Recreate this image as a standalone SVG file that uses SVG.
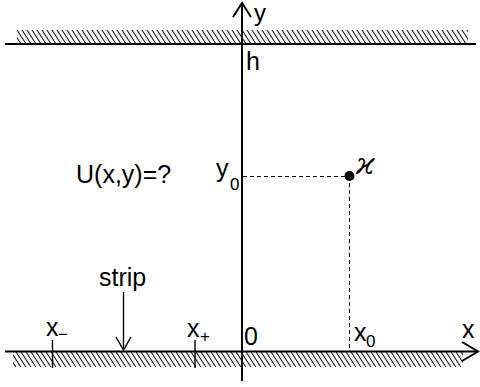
<svg xmlns="http://www.w3.org/2000/svg" width="480" height="387" viewBox="0 0 480 387">
<style>
text{font-family:"Liberation Sans",Arial,sans-serif;font-size:25px;fill:#000}
.sub{font-size:17px}
.ax{stroke:#000;stroke-width:2;fill:none}
.thin{stroke:#000;stroke-width:1.4;fill:none}
.dash{stroke:#000;stroke-width:1;stroke-dasharray:4 3;fill:none}
</style>
<defs>
<pattern id="hatch" patternUnits="userSpaceOnUse" width="5" height="40" patternTransform="skewX(33)">
<line x1="2.5" y1="-1" x2="2.5" y2="41" stroke="#000" stroke-width="1.2"/>
</pattern>
</defs>
<g id="walls">
<rect x="17" y="30" width="451" height="14" fill="url(#hatch)"/>
<rect x="13" y="352" width="450" height="15" fill="url(#hatch)"/>
<line class="ax" x1="5" y1="44" x2="476" y2="44"/>
</g>
<g id="connectors">
<line class="ax" x1="5" y1="351.5" x2="478" y2="351.5"/>
<polyline class="ax" points="462,342 478,351.5 462,361"/>
<line class="ax" x1="242" y1="3" x2="242" y2="381"/>
<polyline class="ax" points="233,17 242,3 251,17"/>
<line class="thin" x1="52.5" y1="340" x2="52.5" y2="368"/>
<line class="thin" x1="195" y1="340" x2="195" y2="368"/>
<line class="thin" x1="123.5" y1="292" x2="123.5" y2="350"/>
<polyline class="thin" points="116,337 123.5,350 131,337"/>
<line class="dash" x1="243" y1="176.5" x2="345" y2="176.5"/>
<line class="dash" x1="349.5" y1="176" x2="349.5" y2="351"/>
</g>
<g id="point">
<circle cx="349.5" cy="176" r="5" fill="#000"/>
<text x="356" y="174" style="font-family:'DejaVu Serif',serif;font-style:italic;font-size:30px">ϰ</text>
</g>
<g id="labels">
<text x="254" y="21" style="font-size:24px">y</text>
<text x="246" y="70">h</text>
<text x="76" y="183">U(x,y)=?</text>
<text x="216" y="177">y</text>
<text class="sub" x="230" y="190">0</text>
<text x="99" y="286">strip</text>
<text x="46" y="336">x</text>
<text class="sub" x="58" y="340">−</text>
<text x="187" y="337">x</text>
<text class="sub" x="200" y="342">+</text>
<text x="244" y="345">0</text>
<text x="354" y="341">x</text>
<text class="sub" x="366" y="347">0</text>
<text x="462" y="338">x</text>
</g>
</svg>
